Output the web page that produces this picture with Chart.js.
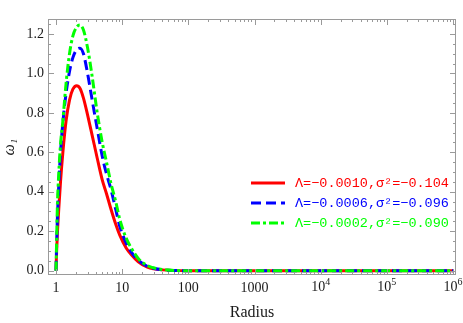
<!DOCTYPE html>
<html lang="en">
<head>
<meta charset="UTF-8">
<script src="https://cdn.jsdelivr.net/npm/chart.js"></script>
<title>omega_1 vs Radius</title>
<style>
  html, body { margin: 0; padding: 0; background: #fff; }
  #wrap { width: 463px; height: 323px; }
</style>
</head>
<body>
<div id="wrap"><canvas id="omegaChart"></canvas></div>
<script>
// values
const radius = [1, 1.02, 1.05, 1.1, 1.17, 1.27, 1.42, 1.6, 1.8, 2.05, 2.3, 2.6, 3.0, 3.5, 4.2, 5, 5.8, 6.8, 8, 9.2, 11.5, 14, 17.5, 24, 40, 100, 1000, 1e4, 1e5, 1e6];
const omegaRed   = [0, 0.09, 0.19, 0.31, 0.45, 0.60, 0.76, 0.865, 0.92, 0.938, 0.925, 0.875, 0.79, 0.69, 0.57, 0.46, 0.39, 0.31, 0.235, 0.18, 0.115, 0.078, 0.045, 0.018, 0.004, 0, 0, 0, 0, 0];
const omegaBlue  = [0, 0.12, 0.27, 0.43, 0.60, 0.75, 0.90, 1.01, 1.08, 1.12, 1.128, 1.10, 1.00, 0.87, 0.72, 0.58, 0.49, 0.41, 0.31, 0.225, 0.14, 0.09, 0.053, 0.022, 0.005, 0, 0, 0, 0, 0];
const omegaGreen = [0, 0.14, 0.33, 0.49, 0.64, 0.76, 0.95, 1.10, 1.19, 1.235, 1.245, 1.22, 1.13, 0.99, 0.80, 0.65, 0.55, 0.44, 0.35, 0.26, 0.165, 0.11, 0.062, 0.026, 0.006, 0, 0, 0, 0, 0];
const seriesLabels = ['Λ=−0.0010,σ²=−0.104', 'Λ=−0.0006,σ²=−0.096', 'Λ=−0.0002,σ²=−0.090'];

const xTicks = [1, 10, 100, 1000, 1e4, 1e5, 1e6];
const xTickLabels = ['1', '10', '100', '1000', '10^4', '10^5', '10^6'];
const yTicks = [0, 0.2, 0.4, 0.6, 0.8, 1.0, 1.2];
const yTickLabels = ['0.0', '0.2', '0.4', '0.6', '0.8', '1.0', '1.2'];

const toPoints = vals => radius.map((r, i) => ({ x: r, y: vals[i] }));
const tickFont = '"Liberation Serif", serif';
const textColor = '#1a1a1a';

// frame with inward ticks on all four sides, Mathematica style
const frameTicks = {
  id: 'frameTicks',
  afterDatasetsDraw(chart) {
    const { ctx, chartArea: a, scales: { x, y } } = chart;
    ctx.save();
    ctx.strokeStyle = '#9a9a9a';
    ctx.lineWidth = 1;
    ctx.strokeRect(a.left + 0.5, a.top + 0.5, a.right - a.left - 1, a.bottom - a.top - 1);
    ctx.beginPath();
    const tickX = (v, len) => {
      const px = Math.round(x.getPixelForValue(v)) + 0.5;
      if (px < a.left || px > a.right) return;
      ctx.moveTo(px, a.bottom); ctx.lineTo(px, a.bottom - len);
      ctx.moveTo(px, a.top); ctx.lineTo(px, a.top + len);
    };
    const tickY = (v, len) => {
      const py = Math.round(y.getPixelForValue(v)) + 0.5;
      if (py < a.top || py > a.bottom) return;
      ctx.moveTo(a.left, py); ctx.lineTo(a.left + len, py);
      ctx.moveTo(a.right, py); ctx.lineTo(a.right - len, py);
    };
    xTicks.forEach(v => {
      tickX(v, 6);
      for (let k = 2; k <= 9; k++) tickX(v * k, 3);
    });
    for (let i = 0; i <= 25; i++) tickY(i * 0.05, i % 4 === 0 ? 6 : 3);
    ctx.stroke();

    // power-of-ten labels with a proper superscript
    ctx.fillStyle = textColor;
    ctx.textBaseline = 'alphabetic';
    xTicks.forEach((v, i) => {
      const lab = xTickLabels[i];
      if (!lab.includes('^')) return;
      const [base, exp] = lab.split('^');
      ctx.font = '14px ' + tickFont;
      const wb = ctx.measureText(base).width;
      ctx.font = '10px ' + tickFont;
      const we = ctx.measureText(exp).width;
      const left = x.getPixelForValue(v) - (wb + we) / 2;
      ctx.font = '14px ' + tickFont;
      ctx.fillText(base, left, a.bottom + 16);
      ctx.font = '10px ' + tickFont;
      ctx.fillText(exp, left + wb, a.bottom + 10);
    });
    ctx.restore();
  }
};

// legend inside the plot: line sample + coloured mono text
const innerLegend = {
  id: 'innerLegend',
  afterDraw(chart) {
    const ctx = chart.ctx;
    const x0 = 251, x1 = 285, tx = 295, rows = [183, 203, 223];
    ctx.save();
    ctx.font = '13.5px "Liberation Mono", monospace';
    ctx.textBaseline = 'middle';
    chart.data.datasets.forEach((ds, i) => {
      ctx.strokeStyle = ds.borderColor;
      ctx.lineWidth = ds.borderWidth;
      ctx.setLineDash(ds.borderDash || []);
      ctx.beginPath();
      ctx.moveTo(x0, rows[i]); ctx.lineTo(x1, rows[i]);
      ctx.stroke();
      ctx.fillStyle = ds.borderColor;
      ctx.fillText(ds.label, tx, rows[i]);
    });
    ctx.restore();
  }
};

new Chart(document.getElementById('omegaChart'), {
  type: 'line',
  data: {
    datasets: [
      { label: seriesLabels[0], data: toPoints(omegaRed), borderColor: '#ff0000', borderWidth: 3, order: 2 },
      { label: seriesLabels[1], data: toPoints(omegaBlue), borderColor: '#0000ff', borderWidth: 3, borderDash: [10, 5], order: 1 },
      { label: seriesLabels[2], data: toPoints(omegaGreen), borderColor: '#00ff00', borderWidth: 3, borderDash: [9, 3, 3, 3], order: 0 }
    ]
  },
  options: {
    responsive: true,
    maintainAspectRatio: false,
    animation: false,
    devicePixelRatio: 1,
    layout: { padding: { left: 0, right: 7, top: 19, bottom: 0 } },
    elements: { point: { radius: 0 }, line: { cubicInterpolationMode: 'monotone', fill: false } },
    plugins: { legend: { display: false }, tooltip: { enabled: false } },
    scales: {
      x: {
        type: 'logarithmic',
        min: 0.757,
        max: 1.11e6,
        grid: { display: false, drawTicks: false },
        border: { display: false },
        afterBuildTicks: s => { s.ticks = xTicks.map(v => ({ value: v })); },
        afterFit: s => { s.height = 48; s.paddingLeft = 0; s.paddingRight = 0; },
        ticks: {
          autoSkip: false, maxRotation: 0, padding: 5, color: textColor,
          font: { family: tickFont, size: 14 },
          callback: (v, i) => xTickLabels[i].includes('^') ? '' : xTickLabels[i]
        },
        title: { display: true, text: 'Radius', color: textColor, font: { family: tickFont, size: 16 }, padding: { top: 4, bottom: 1 } }
      },
      y: {
        min: -0.022,
        max: 1.276,
        grid: { display: false, drawTicks: false },
        border: { display: false },
        afterBuildTicks: s => { s.ticks = yTicks.map(v => ({ value: v })); },
        afterFit: s => { s.width = 48; },
        ticks: {
          padding: 4, color: textColor,
          font: { family: tickFont, size: 14 },
          callback: (v, i) => yTickLabels[i]
        },
        title: { display: true, text: 'ω₁', color: textColor, font: { family: tickFont, size: 16, style: 'italic' }, padding: { top: 0, bottom: 0 } }
      }
    }
  },
  plugins: [frameTicks, innerLegend]
});
</script>
</body>
</html>
